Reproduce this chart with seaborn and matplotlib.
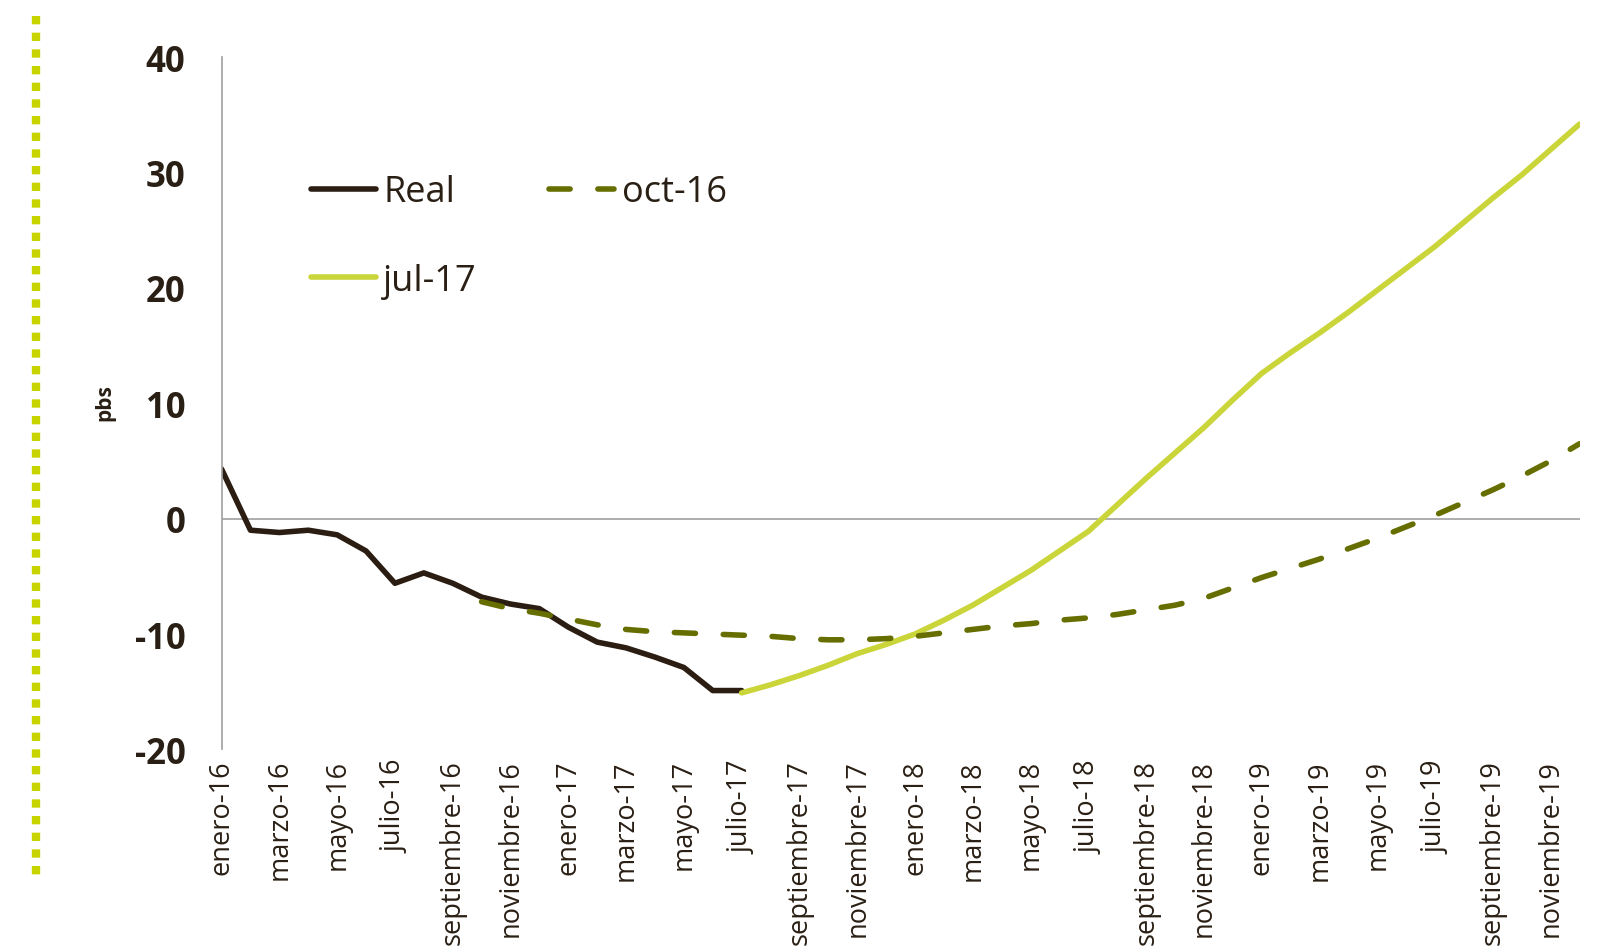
import numpy as np
import pandas as pd
import matplotlib
matplotlib.use('Agg')
import matplotlib.pyplot as plt
from matplotlib.lines import Line2D
import seaborn as sns

# month axis: enero-16 .. diciembre-19
month_names = ['enero', 'febrero', 'marzo', 'abril', 'mayo', 'junio', 'julio',
               'agosto', 'septiembre', 'octubre', 'noviembre', 'diciembre']
years = ['16', '17', '18', '19']
month_labels = [f'{m}-{y}' for y in years for m in month_names]

# Real (enero-16 .. julio-17)
real_start = 0
real_vals = [4.3, -1.0, -1.2, -1.0, -1.4, -2.8, -5.6, -4.7, -5.6, -6.8,
             -7.4, -7.8, -9.4, -10.7, -11.2, -12.0, -12.9, -14.9, -14.9]

# oct-16 forecast (octubre-16 .. diciembre-19)
oct16_start = 9
oct16_vals = [-7.2, -7.8, -8.2, -8.7, -9.2, -9.6, -9.8, -9.9, -10.0, -10.1,
              -10.2, -10.4, -10.5, -10.5, -10.4, -10.2, -9.9, -9.6, -9.3, -9.1,
              -8.8, -8.6, -8.3, -7.9, -7.5, -6.9, -6.0, -5.1, -4.3, -3.5,
              -2.6, -1.7, -0.7, 0.3, 1.4, 2.5, 3.7, 5.0, 6.5]

# jul-17 forecast (julio-17 .. diciembre-19)
jul17_start = 18
jul17_vals = [-15.1, -14.4, -13.6, -12.7, -11.7, -10.9, -10.0, -8.8, -7.5, -6.0,
              -4.5, -2.8, -1.1, 1.2, 3.5, 5.7, 7.9, 10.3, 12.6, 14.4,
              16.1, 17.9, 19.8, 21.7, 23.6, 25.7, 27.8, 29.8, 32.0, 34.2]

text_col = '#2a1f14'
real_col = '#2b1d12'
oct_col = '#666e00'
jul_col = '#c9d539'
grey = '#a0a0a0'

sns.set_theme(style='white')
plt.rcParams['font.family'] = ['Open Sans', 'DejaVu Sans']

fig = plt.figure(figsize=(16.01, 9.53), dpi=100)
ax = fig.add_axes([0.1384, 0.2126, 0.8482, 0.7263])

def series(start, vals):
    return pd.DataFrame({'mes': np.arange(start, start + len(vals)), 'pbs': vals})

sns.lineplot(data=series(real_start, real_vals), x='mes', y='pbs', ax=ax,
             color=real_col, lw=4, label='Real')
sns.lineplot(data=series(jul17_start, jul17_vals), x='mes', y='pbs', ax=ax,
             color=jul_col, lw=4, label='jul-17')
sns.lineplot(data=series(oct16_start, oct16_vals), x='mes', y='pbs', ax=ax,
             color=oct_col, lw=4, label='oct-16')
for ln in ax.get_lines():
    ln.set_solid_joinstyle('round')
    ln.set_solid_capstyle('round')
oct_line = ax.get_lines()[-1]
oct_line.set_dashes((3.8, 5.0))
oct_line.set_dash_capstyle('round')

ax.axhline(0, color=grey, lw=1.2, zorder=0)
ax.set_xlim(0, len(month_labels) - 1)
ax.set_ylim(-20, 40)
ax.set_yticks(np.arange(-20, 41, 10))
ax.set_yticklabels([str(v) for v in range(-20, 41, 10)],
                   fontsize=25, fontweight='bold', color=text_col)
ax.set_xticks(np.arange(0, len(month_labels), 2))
ax.set_xticklabels(month_labels[::2], rotation=90, fontsize=19.5,
                   color=text_col, va='top', ha='center')
ax.tick_params(axis='y', length=0, pad=26)
ax.tick_params(axis='x', length=0, pad=7)
ax.set_xlabel('')
ax.set_ylabel('')
for s in ['top', 'right', 'bottom']:
    ax.spines[s].set_visible(False)
ax.spines['left'].set_color(grey)
ax.spines['left'].set_linewidth(1.2)

fig.text(105 / 1601, 1 - 403 / 953, 'pbs', rotation=90, ha='center', va='center',
         fontsize=15, fontweight='bold', color=text_col)

handles, labels = ax.get_legend_handles_labels()
leg = ax.legend(handles, labels, ncol=2, loc='upper left',
                bbox_to_anchor=(0.066, 0.831), frameon=False, fontsize=26,
                handlelength=1.8, handletextpad=0.2, columnspacing=2.0,
                labelspacing=1.45, borderpad=0, borderaxespad=0)
for t in leg.get_texts():
    t.set_color(text_col)

# left dotted accent line
fig.add_artist(Line2D([36 / 1601, 36 / 1601], [1 - 17 / 953, 1 - 876 / 953],
                      transform=fig.transFigure, color='#c8d400', lw=6,
                      linestyle=(0, (1, 1)), dash_capstyle='butt'))

fig.savefig('out.png', dpi=100, facecolor='white')
